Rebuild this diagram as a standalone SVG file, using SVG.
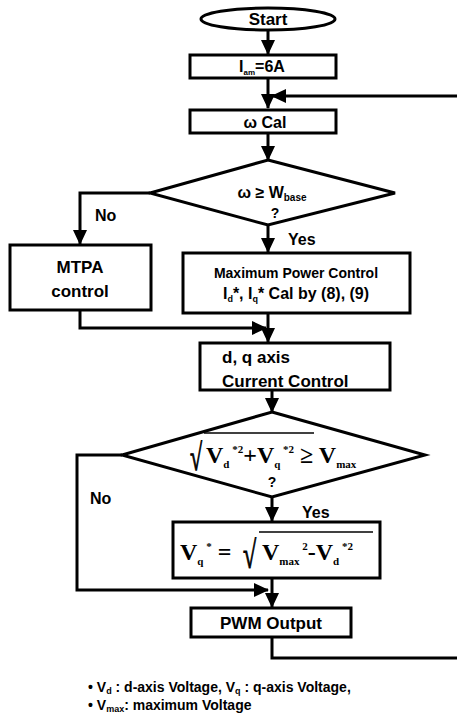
<svg xmlns="http://www.w3.org/2000/svg" width="457" height="720" viewBox="0 0 457 720">
<style>
.box{fill:#fff;stroke:#000;stroke-width:3}
.ln{fill:none;stroke:#000;stroke-width:3}
.t{font-family:"Liberation Sans",Arial,sans-serif;font-weight:bold;fill:#000}
.m{font-family:"Liberation Serif","Times New Roman",serif;font-weight:bold;fill:#000}
</style>
<defs>
<marker id="ah" markerUnits="userSpaceOnUse" markerWidth="16" markerHeight="16" viewBox="0 0 16 16" refX="14" refY="8" orient="auto">
<path d="M0,1 L15,8 L0,15 Z" fill="#000"/>
</marker>
</defs>
<g id="connectors">
<line class="ln" x1="268" y1="31" x2="268" y2="54" marker-end="url(#ah)"/>
<line class="ln" x1="268" y1="78" x2="268" y2="108" marker-end="url(#ah)"/>
<line class="ln" x1="457" y1="96" x2="272" y2="96" marker-end="url(#ah)"/>
<line class="ln" x1="268" y1="133" x2="268" y2="160" marker-end="url(#ah)"/>
<polyline class="ln" points="150,193 80,193 80,244" marker-end="url(#ah)"/>
<line class="ln" x1="268" y1="225" x2="268" y2="252" marker-end="url(#ah)"/>
<polyline class="ln" points="80,310 80,328 266,328" marker-end="url(#ah)"/>
<line class="ln" x1="268" y1="313" x2="268" y2="342" marker-end="url(#ah)"/>
<line class="ln" x1="272" y1="390" x2="272" y2="412" marker-end="url(#ah)"/>
<polyline class="ln" points="122,455 77,455 77,590 268,590" marker-end="url(#ah)"/>
<line class="ln" x1="272" y1="497" x2="272" y2="521" marker-end="url(#ah)"/>
<line class="ln" x1="272" y1="578" x2="272" y2="607" marker-end="url(#ah)"/>
<polyline class="ln" points="272,637 272,658 457,658"/>
<text class="t" x="95" y="221" font-size="16">No</text>
<text class="t" x="288" y="245" font-size="16">Yes</text>
<text class="t" x="90" y="504" font-size="16">No</text>
<text class="t" x="302" y="518" font-size="16">Yes</text>
</g>
<g id="start">
<ellipse class="box" cx="268" cy="19" rx="67" ry="11"/>
<text class="t" x="268" y="25" font-size="17" text-anchor="middle">Start</text>
</g>
<g id="iam">
<rect class="box" x="190" y="55" width="146" height="23"/>
<text class="t" x="262" y="72" font-size="16" text-anchor="middle">I<tspan font-size="8" dy="3">am</tspan><tspan dy="-3">=6A</tspan></text>
</g>
<g id="wcal">
<rect class="box" x="190" y="110" width="146" height="23"/>
<text class="t" x="265" y="128" font-size="16" text-anchor="middle">ω Cal</text>
</g>
<g id="dec1">
<polygon class="box" points="268,160 395,193 268,225 150,193"/>
<text class="t" x="272" y="198" font-size="16" text-anchor="middle">ω ≥ W<tspan font-size="10" dy="3">base</tspan></text>
<text class="t" x="275" y="218" font-size="14" text-anchor="middle">?</text>
</g>
<g id="mtpa">
<rect class="box" x="10" y="245" width="141" height="65"/>
<text class="t" x="80" y="273" font-size="17" text-anchor="middle">MTPA</text>
<text class="t" x="80" y="297" font-size="17" text-anchor="middle">control</text>
</g>
<g id="mpc">
<rect class="box" x="183" y="253" width="227" height="60"/>
<text class="t" x="296" y="278" font-size="14" text-anchor="middle">Maximum Power Control</text>
<text class="t" x="296" y="299" font-size="16" text-anchor="middle">I<tspan font-size="9" dy="3">d</tspan><tspan dy="-3">*, I</tspan><tspan font-size="9" dy="3">q</tspan><tspan dy="-3">* Cal by (8), (9)</tspan></text>
</g>
<g id="ccontrol">
<rect class="box" x="200" y="343" width="190" height="47"/>
<text class="t" x="222" y="363" font-size="17">d, q axis</text>
<text class="t" x="222" y="387" font-size="17">Current Control</text>
</g>
<g id="dec2">
<polygon class="box" points="272,412 425,455 272,497 122,455"/>
<text class="m" x="0" y="0" font-size="22" stroke="#000" stroke-width="0.6" transform="translate(190,470) scale(1,1.7)">√</text>
<line x1="204" y1="433" x2="314" y2="433" stroke="#000" stroke-width="1.5"/>
<text class="m" x="206" y="463" font-size="24">V<tspan font-size="11" dy="5">d</tspan><tspan font-size="11" dy="-15"> *2</tspan><tspan dy="10" font-size="24">+V</tspan><tspan font-size="11" dy="5">q</tspan><tspan font-size="11" dy="-15"> *2</tspan><tspan dy="10" font-size="24"> ≥ V</tspan><tspan font-size="11" dy="5">max</tspan></text>
<text class="t" x="272" y="487" font-size="14" text-anchor="middle">?</text>
</g>
<g id="vq">
<rect class="box" x="173" y="522" width="207" height="56"/>
<text class="m" x="180" y="560" font-size="24">V<tspan font-size="11" dy="5">q</tspan><tspan font-size="11" dy="-15"> *</tspan><tspan dy="10" font-size="24"> =</tspan></text>
<text class="m" x="0" y="0" font-size="24" stroke="#000" stroke-width="0.6" transform="translate(243,568) scale(1,1.6)">√</text>
<line x1="259" y1="532" x2="373" y2="532" stroke="#000" stroke-width="1.5"/>
<text class="m" x="262" y="560" font-size="24">V<tspan font-size="11" dy="5">max</tspan><tspan font-size="11" dy="-15"> 2</tspan><tspan dy="10" font-size="24">-V</tspan><tspan font-size="11" dy="5">d</tspan><tspan font-size="11" dy="-15"> *2</tspan></text>
</g>
<g id="pwm">
<rect class="box" x="191" y="608" width="160" height="29"/>
<text class="t" x="271" y="629" font-size="17" text-anchor="middle">PWM Output</text>
</g>
<g id="legend">
<text class="t" x="88" y="692" font-size="14">•  V<tspan font-size="9" dy="2">d</tspan><tspan dy="-2"> : d-axis Voltage, V</tspan><tspan font-size="9" dy="2">q</tspan><tspan dy="-2"> : q-axis Voltage,</tspan></text>
<text class="t" x="88" y="710" font-size="14">•  V<tspan font-size="9" dy="2">max</tspan><tspan dy="-2">: maximum Voltage</tspan></text>
</g>
</svg>
